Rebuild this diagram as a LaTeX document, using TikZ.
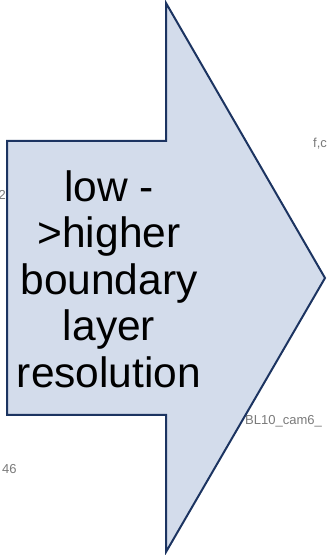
\documentclass[tikz,border=0pt]{standalone}
\usepackage{fontspec}
\setmainfont{Liberation Sans}
\definecolor{arrowfill}{HTML}{D3DCEB}
\definecolor{arrowline}{HTML}{1C3461}
\definecolor{faint}{HTML}{7A7A7A}
\tikzset{
  bgtext/.style={text=faint, inner sep=0pt, font=\fontsize{13}{15}\selectfont},
  bigarrow/.style={fill=arrowfill, draw=arrowline, line width=2pt, line join=miter},
  arrowtext/.style={align=center, inner sep=0pt, font=\fontsize{42.5}{46.5}\selectfont}
}
\begin{document}
\begin{tikzpicture}[x=1pt,y=1pt]
  \useasboundingbox (0,0) rectangle (327,555);
  % faint labels of the figure underneath
  \node[bgtext, anchor=west] (lblA) at (313,411) {f,c};
  \node[bgtext, anchor=east] (lblB) at (6,360) {2};
  \node[bgtext, anchor=west] (lblC) at (245,134) {BL10\_cam6\_};
  \node[bgtext, anchor=west] (lblD) at (2,86) {46};
  % block arrow
  \draw[bigarrow] (7,414) -- (166,414) -- (166,552) -- (325,277)
    -- (166,3) -- (166,140) -- (7,140) -- cycle;
  \node[arrowtext] (caption) at (109,276)
    {low -\\>higher\\boundary\\layer\\resolution};
\end{tikzpicture}
\end{document}
